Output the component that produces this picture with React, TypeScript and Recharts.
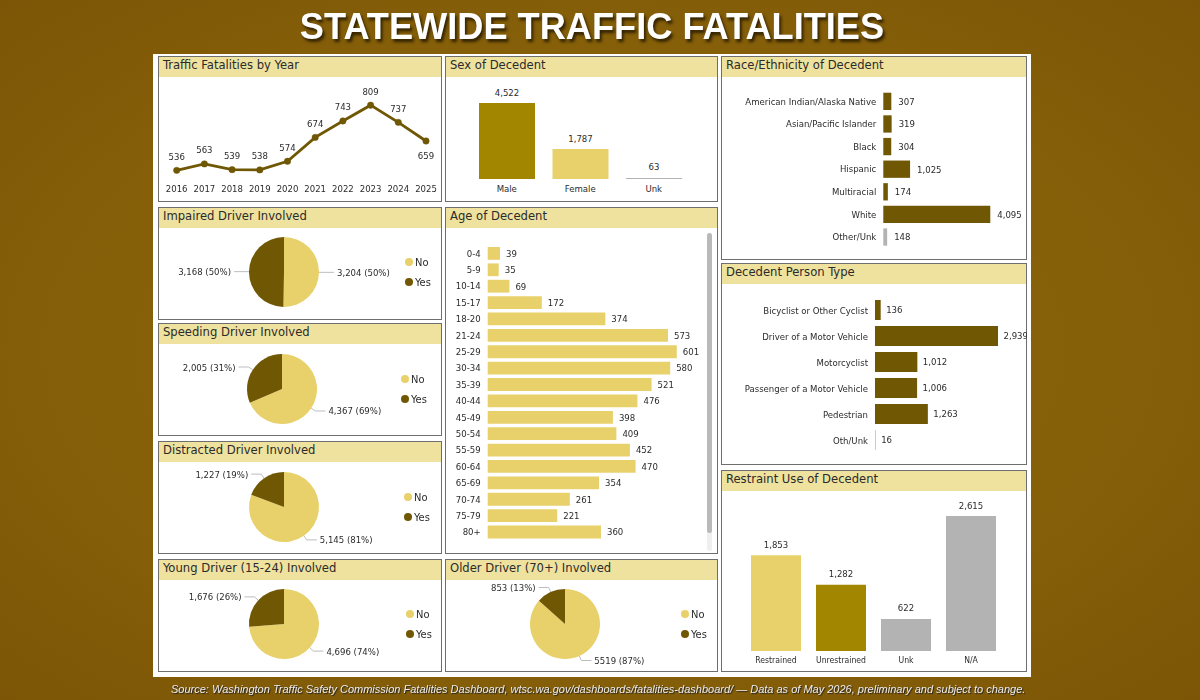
import React from "react";
import { LineChart, Line, BarChart, Bar, PieChart, Pie, Cell, XAxis, YAxis, LabelList, Legend } from "recharts";

const LIGHT = "#E8D16B";
const DARK = "#6F5703";
const MID = "#A38600";
const GREY = "#B3B3B3";
const FONT = "'DejaVu Sans Condensed', 'DejaVu Sans', sans-serif";
const TEXT = "#2B2B2B";
const LABEL_SIZE = 9.5;

const years = ["2016","2017","2018","2019","2020","2021","2022","2023","2024","2025"];
const yearValues = [536,563,539,538,574,674,743,809,737,659];

const sexCats = ["Male","Female","Unk"];
const sexValues = [4522,1787,63];
const sexColors = [MID,LIGHT,GREY];

const ageCats = ["0-4","5-9","10-14","15-17","18-20","21-24","25-29","30-34","35-39","40-44","45-49","50-54","55-59","60-64","65-69","70-74","75-79","80+"];
const ageValues = [39,35,69,172,374,573,601,580,521,476,398,409,452,470,354,261,221,360];

const raceCats = ["American Indian/Alaska Native","Asian/Pacific Islander","Black","Hispanic","Multiracial","White","Other/Unk"];
const raceValues = [307,319,304,1025,174,4095,148];
const raceColors = [DARK,DARK,DARK,DARK,DARK,DARK,GREY];

const personCats = ["Bicyclist or Other Cyclist","Driver of a Motor Vehicle","Motorcyclist","Passenger of a Motor Vehicle","Pedestrian","Oth/Unk"];
const personValues = [136,2939,1012,1006,1263,16];
const personColors = [DARK,DARK,DARK,DARK,DARK,GREY];

const restraintCats = ["Restrained","Unrestrained","Unk","N/A"];
const restraintValues = [1853,1282,622,2615];
const restraintColors = [LIGHT,MID,GREY,GREY];

const yesNo = ["No","Yes"];
const impaired = [3204,3168];
const impairedLabels = ["3,204 (50%)","3,168 (50%)"];
const speeding = [4367,2005];
const speedingLabels = ["4,367 (69%)","2,005 (31%)"];
const distracted = [5145,1227];
const distractedLabels = ["5,145 (81%)","1,227 (19%)"];
const young = [4696,1676];
const youngLabels = ["4,696 (74%)","1,676 (26%)"];
const older = [5519,853];
const olderLabels = ["5519 (87%)","853 (13%)"];

const fmt = (v: number) => v.toLocaleString("en-US");
const zip = (cats: string[], vals: number[]) => cats.map((name, i) => ({ name, value: vals[i] }));

type Box = { x: number; y: number; w: number; h: number };

function Panel({ box, title, children }: { box: Box; title: string; children?: React.ReactNode }) {
  return (
    <div style={{ position: "absolute", left: box.x, top: box.y, width: box.w, height: box.h, boxSizing: "border-box", border: "1px solid #6e6e6e", background: "#fff" }}>
      <div style={{ position: "absolute", left: 0, top: 0, right: 0, height: 20, background: "#EFE29E", color: "#2B2B2B", fontFamily: FONT, fontSize: 12.9, lineHeight: "16px", paddingLeft: 4 }}>{title}</div>
      <div style={{ position: "absolute", left: -1, top: -1 }}>{children}</div>
    </div>
  );
}

function LineYears({ box }: { box: Box }) {
  const data = zip(years, yearValues);
  const lbl = (p: any) => {
    const below = p.index === yearValues.length - 1;
    return <text x={p.x} y={below ? p.y + 15 : p.y - 14} textAnchor="middle" dominantBaseline="central" fontSize={LABEL_SIZE} fontFamily={FONT} fill={TEXT}>{p.value}</text>;
  };
  return (
    <LineChart width={box.w} height={box.h} data={data} margin={{ top: 37, right: 16, left: 18.7, bottom: 0 }}>
      <XAxis dataKey="name" axisLine={false} tickLine={false} interval={0} height={24} tickMargin={1} tick={{ fontSize: LABEL_SIZE, fontFamily: FONT, fill: TEXT }} />
      <YAxis hide domain={[504, 860]} />
      <Line type="linear" dataKey="value" stroke={DARK} strokeWidth={2.8} dot={{ r: 3.2, fill: DARK, stroke: DARK, strokeWidth: 0.5 }} label={lbl} isAnimationActive={false} />
    </LineChart>
  );
}

function VBars({ box, cats, vals, colors, margin, max, gap, axisH, fontSize }: any) {
  const tick = (p: any) => (
    <text x={p.x} y={p.y + 3} textAnchor="middle" dominantBaseline="central" fontSize={fontSize} fontFamily={FONT} fill={TEXT}>{p.payload.value}</text>
  );
  return (
    <BarChart width={box.w} height={box.h} data={zip(cats, vals)} margin={margin} barCategoryGap={gap}>
      <XAxis dataKey="name" axisLine={false} tickLine={false} interval={0} height={axisH} tickMargin={0} tick={tick} />
      <YAxis hide domain={[0, max]} />
      <Bar dataKey="value" isAnimationActive={false}>
        {colors.map((c: string, i: number) => <Cell key={i} fill={c} />)}
        <LabelList dataKey="value" position="top" offset={7.5} fill={TEXT} formatter={(v: number) => fmt(v)} style={{ fontSize: LABEL_SIZE, fontFamily: FONT, fill: TEXT }} />
      </Bar>
    </BarChart>
  );
}

function HBars({ box, cats, vals, colors, margin, axisW, max, barSize, fontSize, labelOffset }: any) {
  const tick = (p: any) => (
    <text x={p.x} y={p.y} textAnchor="end" dominantBaseline="central" fontSize={fontSize} fontFamily={FONT} fill={TEXT}>{p.payload.value}</text>
  );
  return (
    <BarChart layout="vertical" width={box.w} height={box.h} data={zip(cats, vals)} margin={margin}>
      <XAxis type="number" hide domain={[0, max]} />
      <YAxis type="category" dataKey="name" width={axisW} axisLine={false} tickLine={false} interval={0} tickMargin={1} tick={tick} />
      <Bar dataKey="value" barSize={barSize} isAnimationActive={false}>
        {vals.map((_: number, i: number) => <Cell key={i} fill={colors ? colors[i] : LIGHT} />)}
        <LabelList dataKey="value" position="right" offset={labelOffset} fill={TEXT} formatter={(v: number) => fmt(v)} style={{ fontSize: LABEL_SIZE, fontFamily: FONT, fill: TEXT }} />
      </Bar>
    </BarChart>
  );
}

function pieLabel(labels: string[]) {
  return (p: any) => {
    const rad = (-p.midAngle * Math.PI) / 180;
    const dx = Math.cos(rad), dy = Math.sin(rad);
    const x0 = p.cx + p.outerRadius * dx, y0 = p.cy + p.outerRadius * dy;
    const x1 = p.cx + (p.outerRadius + 5) * dx, y1 = p.cy + (p.outerRadius + 5) * dy;
    const s = dx >= 0 ? 1 : -1;
    const x2 = x1 + s * 10;
    return (
      <g>
        <polyline points={`${x0},${y0} ${x1},${y1} ${x2},${y1}`} fill="none" stroke="#BDBDBD" strokeWidth={1} />
        <text x={x2 + s * 3} y={y1} textAnchor={s > 0 ? "start" : "end"} dominantBaseline="central" fontSize={LABEL_SIZE} fontFamily={FONT} fill={TEXT}>{labels[p.index]}</text>
      </g>
    );
  };
}

function PieBox({ box, vals, labels, cx, cy, legend }: any) {
  const legendContent = (props: any) => (
    <div>
      {(props.payload || []).map((e: any) => (
        <div key={e.value} style={{ display: "flex", alignItems: "center", height: 20, fontFamily: FONT, fontSize: 11, color: TEXT }}>
          <span style={{ width: 8, height: 8, borderRadius: 4, background: e.color, marginRight: 2 }} />
          {e.value}
        </div>
      ))}
    </div>
  );
  return (
    <PieChart width={box.w} height={box.h} margin={{ top: 0, right: 0, bottom: 0, left: 0 }}>
      <Pie data={zip(yesNo, vals)} dataKey="value" nameKey="name" cx={cx - box.x} cy={cy - box.y} outerRadius={35} startAngle={90} endAngle={-270} stroke="none" label={pieLabel(labels)} labelLine={false} isAnimationActive={false}>
        <Cell fill={LIGHT} />
        <Cell fill={DARK} />
      </Pie>
      <Legend layout="vertical" align="right" verticalAlign="top" content={legendContent} wrapperStyle={{ left: legend[0] - box.x, right: "auto", top: legend[1] - box.y, width: 40 }} />
    </PieChart>
  );
}

const P = {
  year: { x: 158, y: 56, w: 284, h: 146 },
  impaired: { x: 158, y: 207, w: 284, h: 113 },
  speeding: { x: 158, y: 323, w: 284, h: 113 },
  distracted: { x: 158, y: 441, w: 284, h: 113 },
  young: { x: 158, y: 559, w: 284, h: 113 },
  sex: { x: 445, y: 56, w: 273, h: 146 },
  age: { x: 445, y: 207, w: 273, h: 347 },
  older: { x: 445, y: 559, w: 273, h: 113 },
  race: { x: 721, y: 56, w: 306, h: 204 },
  person: { x: 721, y: 263, w: 306, h: 202 },
  restraint: { x: 721, y: 470, w: 306, h: 202 },
};

export default function App() {
  return (
    <div style={{ position: "fixed", left: 0, top: 0, width: 1200, height: 700, overflow: "hidden", background: "radial-gradient(ellipse at center, #8E660C 0%, #866009 60%, #7C5506 100%)" }}>
      <div style={{ position: "absolute", left: 0, width: 1184, top: 5, textAlign: "center", color: "#fff", fontFamily: "'Liberation Sans', Arial, sans-serif", fontWeight: 700, fontSize: 36.2, lineHeight: "44px", textShadow: "2px 3px 3px rgba(30,20,0,0.8)" }}>STATEWIDE TRAFFIC FATALITIES</div>
      <div style={{ position: "absolute", left: 153, top: 54, width: 878, height: 623, background: "#fff" }} />

      <Panel box={P.year} title="Traffic Fatalities by Year"><LineYears box={P.year} /></Panel>
      <Panel box={P.impaired} title="Impaired Driver Involved"><PieBox box={P.impaired} vals={impaired} labels={impairedLabels} cx={284} cy={272} legend={[405, 252]} /></Panel>
      <Panel box={P.speeding} title="Speeding Driver Involved"><PieBox box={P.speeding} vals={speeding} labels={speedingLabels} cx={282} cy={389} legend={[401, 369]} /></Panel>
      <Panel box={P.distracted} title="Distracted Driver Involved"><PieBox box={P.distracted} vals={distracted} labels={distractedLabels} cx={284} cy={507} legend={[404, 487]} /></Panel>
      <Panel box={P.young} title="Young Driver (15-24) Involved"><PieBox box={P.young} vals={young} labels={youngLabels} cx={284} cy={624} legend={[406, 604]} /></Panel>

      <Panel box={P.sex} title="Sex of Decedent">
        <VBars box={P.sex} cats={sexCats} vals={sexValues} colors={sexColors} margin={{ top: 29, right: 27.5, left: 25, bottom: 0 }} max={5600} gap={9} axisH={23} fontSize={LABEL_SIZE} />
      </Panel>
      <Panel box={P.age} title="Age of Decedent">
        <HBars box={P.age} cats={ageCats} vals={ageValues} margin={{ top: 38, right: 0, left: 0, bottom: 14 }} axisW={42.7} max={732} barSize={12.8} fontSize={LABEL_SIZE} labelOffset={6} />
        <div style={{ position: "absolute", left: 262, top: 26, width: 5, height: 318, borderRadius: 3, background: "#EFEFEF" }}>
          <div style={{ width: 5, height: 300, borderRadius: 3, background: "#B9B9B9" }} />
        </div>
      </Panel>
      <Panel box={P.older} title="Older Driver (70+) Involved"><PieBox box={P.older} vals={older} labels={olderLabels} cx={565} cy={624} legend={[681, 604]} /></Panel>

      <Panel box={P.race} title="Race/Ethnicity of Decedent">
        <HBars box={P.race} cats={raceCats} vals={raceValues} colors={raceColors} margin={{ top: 33.7, right: 0, left: 0, bottom: 12 }} axisW={162.3} max={5500} barSize={17.3} fontSize={LABEL_SIZE} labelOffset={7} />
      </Panel>
      <Panel box={P.person} title="Decedent Person Type">
        <HBars box={P.person} cats={personCats} vals={personValues} colors={personColors} margin={{ top: 34, right: 0, left: 0, bottom: 12 }} axisW={154} max={3632} barSize={20} fontSize={LABEL_SIZE} labelOffset={5.5} />
      </Panel>
      <Panel box={P.restraint} title="Restraint Use of Decedent">
        <VBars box={P.restraint} cats={restraintCats} vals={restraintValues} colors={restraintColors} margin={{ top: 30, right: 23.5, left: 22.5, bottom: 0 }} max={2926} gap={7.5} axisH={21} fontSize={8.6} />
      </Panel>

      <div style={{ position: "absolute", left: 171, top: 682, color: "#EDEDED", fontFamily: "'Liberation Sans', Arial, sans-serif", fontStyle: "italic", fontSize: 11, lineHeight: "14px", whiteSpace: "nowrap", textShadow: "1px 1px 1px #222" }}>Source: Washington Traffic Safety Commission Fatalities Dashboard, wtsc.wa.gov/dashboards/fatalities-dashboard/ — Data as of May 2026, preliminary and subject to change.</div>
    </div>
  );
}
